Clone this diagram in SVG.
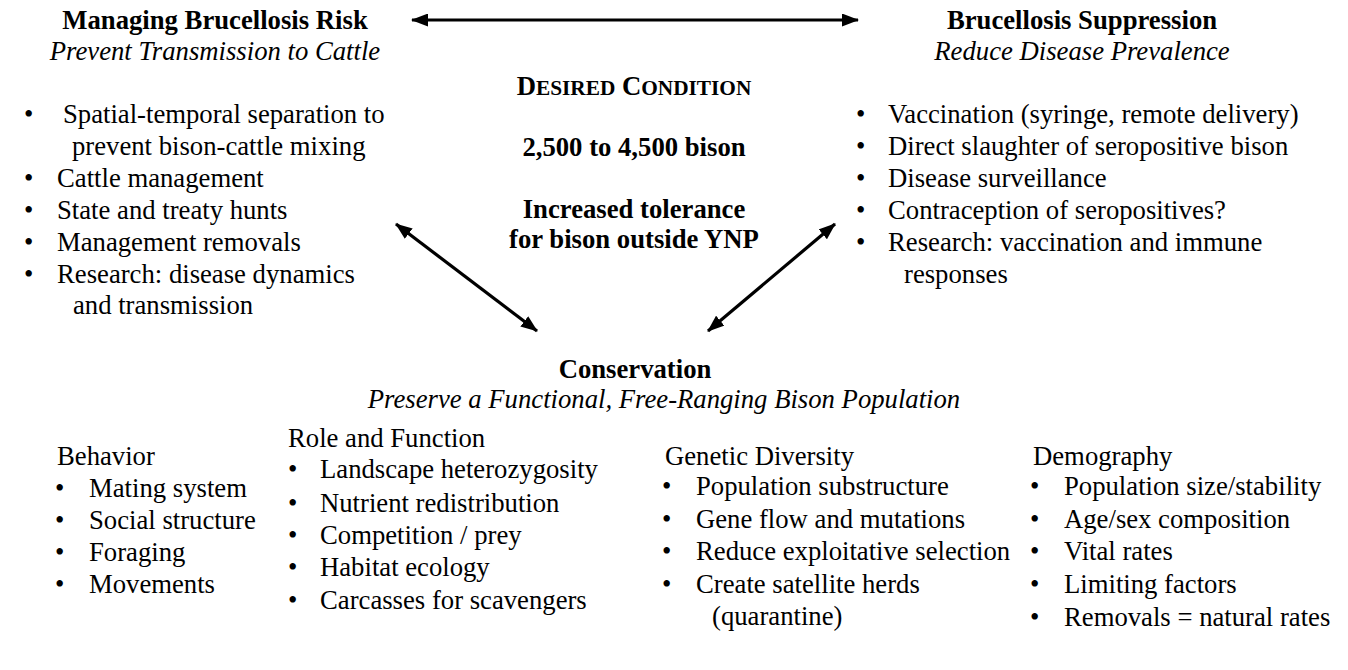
<svg xmlns="http://www.w3.org/2000/svg" width="1348" height="670" viewBox="0 0 1348 670">
<style>
.b{font-weight:bold}
.i{font-style:italic}
.m{text-anchor:middle}
.conn line{stroke:#000;stroke-width:3.2;fill:none}
</style>
<defs>
<marker id="ah" viewBox="0 0 17 13" markerWidth="17" markerHeight="13" refX="16" refY="6.5" orient="auto-start-reverse" markerUnits="userSpaceOnUse">
<path d="M0,0 L17,6.5 L0,13 z" fill="#000"/>
</marker>
</defs>
<rect width="1348" height="670" fill="#fff"/>

<g id="managing-risk">
<text class="b m" x="215" y="29" font-family="Liberation Serif, serif" font-size="26.7">Managing Brucellosis Risk</text>
<text class="i m" x="215" y="60" font-family="Liberation Serif, serif" font-size="26.7">Prevent Transmission to Cattle</text>
<text x="24" y="123" font-family="Liberation Serif, serif" font-size="26.7">•</text>
<text x="63" y="123" font-family="Liberation Serif, serif" font-size="26.7">Spatial-temporal separation to</text>
<text x="72" y="155" font-family="Liberation Serif, serif" font-size="26.7">prevent bison-cattle mixing</text>
<text x="24" y="187" font-family="Liberation Serif, serif" font-size="26.7">•</text>
<text x="57" y="187" font-family="Liberation Serif, serif" font-size="26.7">Cattle management</text>
<text x="24" y="219" font-family="Liberation Serif, serif" font-size="26.7">•</text>
<text x="57" y="219" font-family="Liberation Serif, serif" font-size="26.7">State and treaty hunts</text>
<text x="24" y="251" font-family="Liberation Serif, serif" font-size="26.7">•</text>
<text x="57" y="251" font-family="Liberation Serif, serif" font-size="26.7">Management removals</text>
<text x="24" y="283" font-family="Liberation Serif, serif" font-size="26.7">•</text>
<text x="57" y="283" font-family="Liberation Serif, serif" font-size="26.7">Research: disease dynamics</text>
<text x="73" y="314" font-family="Liberation Serif, serif" font-size="26.7">and transmission</text>
</g>

<g id="suppression">
<text class="b m" x="1082" y="29" font-family="Liberation Serif, serif" font-size="26.7">Brucellosis Suppression</text>
<text class="i m" x="1082" y="60" font-family="Liberation Serif, serif" font-size="26.7">Reduce Disease Prevalence</text>
<text x="856" y="123" font-family="Liberation Serif, serif" font-size="26.7">•</text>
<text x="888" y="123" font-family="Liberation Serif, serif" font-size="26.7">Vaccination (syringe, remote delivery)</text>
<text x="856" y="155" font-family="Liberation Serif, serif" font-size="26.7">•</text>
<text x="888" y="155" font-family="Liberation Serif, serif" font-size="26.7">Direct slaughter of seropositive bison</text>
<text x="856" y="187" font-family="Liberation Serif, serif" font-size="26.7">•</text>
<text x="888" y="187" font-family="Liberation Serif, serif" font-size="26.7">Disease surveillance</text>
<text x="856" y="219" font-family="Liberation Serif, serif" font-size="26.7">•</text>
<text x="888" y="219" font-family="Liberation Serif, serif" font-size="26.7">Contraception of seropositives?</text>
<text x="856" y="251" font-family="Liberation Serif, serif" font-size="26.7">•</text>
<text x="888" y="251" font-family="Liberation Serif, serif" font-size="26.7">Research: vaccination and immune</text>
<text x="904" y="283" font-family="Liberation Serif, serif" font-size="26.7">responses</text>
</g>

<g id="desired-condition">
<text class="b m" x="634" y="95" font-family="Liberation Serif, serif" font-size="26.7">D<tspan font-size="21.3">ESIRED</tspan> C<tspan font-size="21.3">ONDITION</tspan></text>
<text class="b m" x="634" y="156" font-family="Liberation Serif, serif" font-size="26.7">2,500 to 4,500 bison</text>
<text class="b m" x="634" y="218" font-family="Liberation Serif, serif" font-size="26.7">Increased tolerance</text>
<text class="b m" x="634" y="248" font-family="Liberation Serif, serif" font-size="26.7">for bison outside YNP</text>
</g>

<g id="conservation">
<text class="b m" x="635" y="378" font-family="Liberation Serif, serif" font-size="26.7">Conservation</text>
<text class="i m" x="664" y="408" font-family="Liberation Serif, serif" font-size="26.7">Preserve a Functional, Free-Ranging Bison Population</text>
</g>

<g id="behavior">
<text x="57" y="465" font-family="Liberation Serif, serif" font-size="26.7">Behavior</text>
<text x="55" y="497" font-family="Liberation Serif, serif" font-size="26.7">•</text>
<text x="89" y="497" font-family="Liberation Serif, serif" font-size="26.7">Mating system</text>
<text x="55" y="529" font-family="Liberation Serif, serif" font-size="26.7">•</text>
<text x="89" y="529" font-family="Liberation Serif, serif" font-size="26.7">Social structure</text>
<text x="55" y="561" font-family="Liberation Serif, serif" font-size="26.7">•</text>
<text x="89" y="561" font-family="Liberation Serif, serif" font-size="26.7">Foraging</text>
<text x="55" y="593" font-family="Liberation Serif, serif" font-size="26.7">•</text>
<text x="89" y="593" font-family="Liberation Serif, serif" font-size="26.7">Movements</text>
</g>

<g id="role-function">
<text x="288" y="447" font-family="Liberation Serif, serif" font-size="26.7">Role and Function</text>
<text x="288" y="478" font-family="Liberation Serif, serif" font-size="26.7">•</text>
<text x="320" y="478" font-family="Liberation Serif, serif" font-size="26.7">Landscape heterozygosity</text>
<text x="288" y="512" font-family="Liberation Serif, serif" font-size="26.7">•</text>
<text x="320" y="512" font-family="Liberation Serif, serif" font-size="26.7">Nutrient redistribution</text>
<text x="288" y="544" font-family="Liberation Serif, serif" font-size="26.7">•</text>
<text x="320" y="544" font-family="Liberation Serif, serif" font-size="26.7">Competition / prey</text>
<text x="288" y="576" font-family="Liberation Serif, serif" font-size="26.7">•</text>
<text x="320" y="576" font-family="Liberation Serif, serif" font-size="26.7">Habitat ecology</text>
<text x="288" y="609" font-family="Liberation Serif, serif" font-size="26.7">•</text>
<text x="320" y="609" font-family="Liberation Serif, serif" font-size="26.7">Carcasses for scavengers</text>
</g>

<g id="genetic-diversity">
<text x="665" y="465" font-family="Liberation Serif, serif" font-size="26.7">Genetic Diversity</text>
<text x="662" y="495" font-family="Liberation Serif, serif" font-size="26.7">•</text>
<text x="696" y="495" font-family="Liberation Serif, serif" font-size="26.7">Population substructure</text>
<text x="662" y="528" font-family="Liberation Serif, serif" font-size="26.7">•</text>
<text x="696" y="528" font-family="Liberation Serif, serif" font-size="26.7">Gene flow and mutations</text>
<text x="662" y="560" font-family="Liberation Serif, serif" font-size="26.7">•</text>
<text x="696" y="560" font-family="Liberation Serif, serif" font-size="26.7">Reduce exploitative selection</text>
<text x="662" y="593" font-family="Liberation Serif, serif" font-size="26.7">•</text>
<text x="696" y="593" font-family="Liberation Serif, serif" font-size="26.7">Create satellite herds</text>
<text x="712" y="625" font-family="Liberation Serif, serif" font-size="26.7">(quarantine)</text>
</g>

<g id="demography">
<text x="1033" y="465" font-family="Liberation Serif, serif" font-size="26.7">Demography</text>
<text x="1030" y="495" font-family="Liberation Serif, serif" font-size="26.7">•</text>
<text x="1064" y="495" font-family="Liberation Serif, serif" font-size="26.7">Population size/stability</text>
<text x="1030" y="528" font-family="Liberation Serif, serif" font-size="26.7">•</text>
<text x="1064" y="528" font-family="Liberation Serif, serif" font-size="26.7">Age/sex composition</text>
<text x="1030" y="560" font-family="Liberation Serif, serif" font-size="26.7">•</text>
<text x="1064" y="560" font-family="Liberation Serif, serif" font-size="26.7">Vital rates</text>
<text x="1030" y="593" font-family="Liberation Serif, serif" font-size="26.7">•</text>
<text x="1064" y="593" font-family="Liberation Serif, serif" font-size="26.7">Limiting factors</text>
<text x="1030" y="626" font-family="Liberation Serif, serif" font-size="26.7">•</text>
<text x="1064" y="626" font-family="Liberation Serif, serif" font-size="26.7">Removals = natural rates</text>
</g>

<g id="connectors" class="conn">
<line x1="412" y1="20" x2="858" y2="20" marker-start="url(#ah)" marker-end="url(#ah)"/>
<line x1="396" y1="224" x2="537" y2="331" marker-start="url(#ah)" marker-end="url(#ah)"/>
<line x1="835" y1="224" x2="708" y2="331" marker-start="url(#ah)" marker-end="url(#ah)"/>
</g>
</svg>
